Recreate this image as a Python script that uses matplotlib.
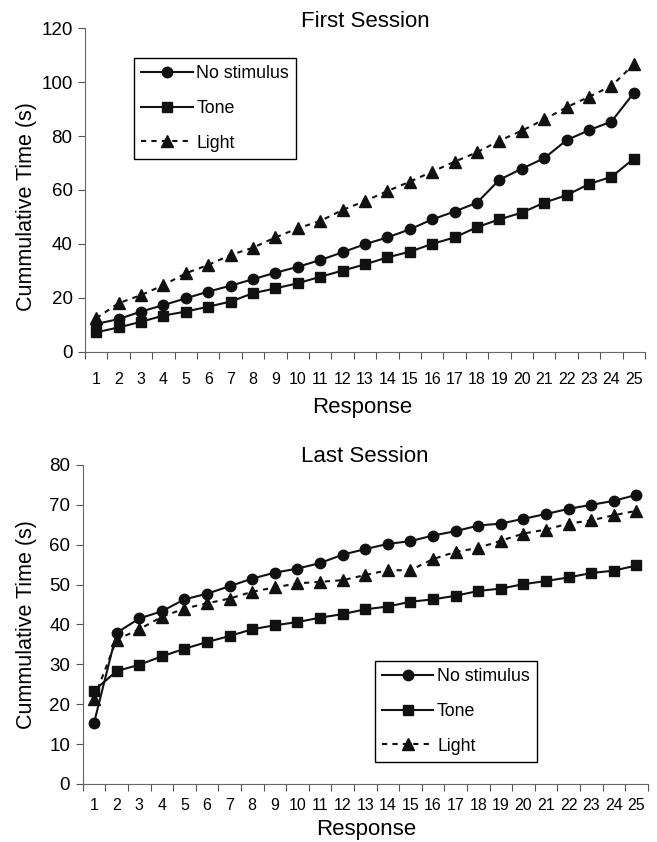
import matplotlib.pyplot as plt
import numpy as np

plt.rcParams['font.family'] = ['Liberation Sans', 'DejaVu Sans']

responses = list(range(1, 26))

first_none = [10.3, 12.1, 14.9, 17.3, 19.8, 22.3, 24.5, 26.9, 29.3, 31.5, 34.0, 36.9, 39.9,
              42.4, 45.4, 49.1, 52.0, 55.3, 63.8, 67.9, 71.8, 78.5, 82.2, 85.4, 96.0]
first_tone = [7.2, 9.0, 11.1, 13.4, 14.9, 16.7, 18.6, 21.7, 23.5, 25.4, 27.8, 30.1, 32.4,
              35.0, 37.1, 40.0, 42.4, 46.2, 49.1, 51.6, 55.3, 58.1, 62.2, 64.9, 71.6]
first_light = [12.4, 18.0, 21.0, 24.7, 29.1, 32.2, 35.9, 38.6, 42.4, 45.8, 48.5, 52.6, 55.9,
               59.6, 63.1, 66.8, 70.5, 74.0, 78.3, 82.0, 86.2, 90.7, 94.6, 98.6, 106.6]

last_none = [15.3, 37.9, 41.5, 43.3, 46.3, 47.7, 49.6, 51.5, 53.0, 54.0, 55.4, 57.5, 58.9,
             60.2, 60.9, 62.3, 63.4, 64.8, 65.3, 66.5, 67.7, 69.0, 70.0, 71.0, 72.5]
last_tone = [23.4, 28.3, 29.9, 32.0, 33.9, 35.6, 37.1, 38.8, 39.8, 40.6, 41.7, 42.6, 43.8,
             44.5, 45.7, 46.3, 47.2, 48.4, 49.0, 50.1, 50.9, 51.8, 52.9, 53.5, 54.8]
last_light = [21.4, 36.2, 38.8, 41.9, 44.0, 45.3, 46.5, 48.2, 49.3, 50.3, 50.7, 51.1, 52.4,
              53.6, 53.6, 56.4, 58.2, 59.2, 61.0, 62.8, 63.8, 65.3, 66.1, 67.4, 68.5]

fig = plt.figure(figsize=(6.57, 8.42), dpi=100)
ax1 = fig.add_axes([0.1294, 0.5823, 0.8524, 0.3841])
ax2 = fig.add_axes([0.1259, 0.0689, 0.86, 0.3789])


def draw(ax, none, tone, light, title, ymax, ystep, legend_loc, title_y, xlab_pos, ylab_pos, xpad):
    ax.plot(responses, none, color='#111111', lw=1.5, marker='o', ms=7.5, label='No stimulus')
    ax.plot(responses, tone, color='#111111', lw=1.5, marker='s', ms=7, label='Tone')
    ax.plot(responses, light, color='#111111', lw=1.5, ls=(0, (2.5, 2.5)), marker='^', ms=8.5, label='Light')
    ax.set_xlim(0.5, 25.5)
    ax.set_ylim(0, ymax)
    ax.set_yticks(np.arange(0, ymax + 1, ystep))
    ax.set_xticks(np.arange(0.5, 26, 1))
    ax.set_xticklabels([])
    ax.set_xticks(responses, minor=True)
    ax.set_xticklabels([str(r) for r in responses], minor=True, fontsize=11.5)
    ax.tick_params(axis='x', which='minor', length=0, pad=xpad)
    ax.tick_params(axis='x', which='major', length=5, color='#555555')
    ax.tick_params(axis='y', length=5, color='#555555', labelsize=13.5, pad=4)
    for s in ['top', 'right']:
        ax.spines[s].set_visible(False)
    ax.spines['left'].set_color('#666666')
    ax.spines['bottom'].set_color('#666666')
    ax.text(0.5, title_y, title, transform=ax.transAxes, ha='center', va='center', fontsize=16)
    ax.set_xlabel('Response', fontsize=16)
    ax.xaxis.set_label_coords(*xlab_pos)
    ax.xaxis.label.set_va('center')
    ax.set_ylabel('Cummulative Time (s)', fontsize=15.5)
    ax.yaxis.set_label_coords(*ylab_pos)
    ax.yaxis.label.set_va('center')
    leg = ax.legend(loc='upper left', bbox_to_anchor=legend_loc, fontsize=12.8,
                    handlelength=2.9, handletextpad=0.2, borderpad=0.4,
                    labelspacing=1.0, fancybox=False, framealpha=1, borderaxespad=0)
    leg.get_frame().set_edgecolor('black')
    leg.get_frame().set_linewidth(1)


draw(ax1, first_none, first_tone, first_light, 'First Session', 120, 20,
     (0.0875, 0.908), 1.0204, (0.495, -0.174), (-0.1036, 0.45), 14.5)
draw(ax2, last_none, last_tone, last_light, 'Last Session', 80, 10,
     (0.517, 0.386), 1.026, (0.501, -0.144), (-0.1, 0.5), 10)

fig.savefig('out.png', dpi=100)
